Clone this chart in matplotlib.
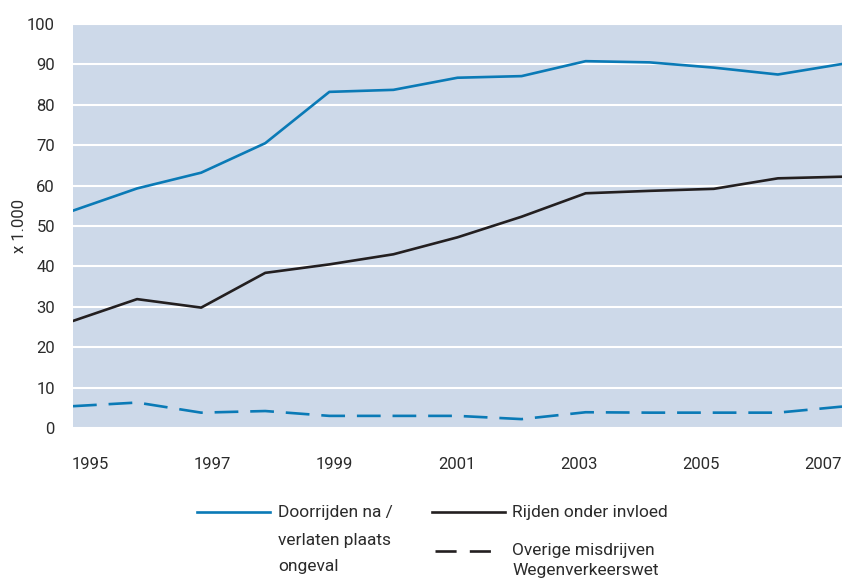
import numpy as np
import matplotlib
matplotlib.use("Agg")
import matplotlib.pyplot as plt
from matplotlib.lines import Line2D
from matplotlib.transforms import ScaledTranslation

plt.rcParams['font.family'] = ['Roboto', 'DejaVu Sans']

years = np.arange(1995, 2008)
doorrijden = [53.8, 59.3, 63.2, 70.5, 83.2, 83.7, 86.7, 87.1, 90.8, 90.5, 89.2, 87.5, 90.1]
rijden_invloed = [26.5, 31.9, 29.8, 38.4, 40.5, 43.0, 47.2, 52.3, 58.1, 58.7, 59.2, 61.8, 62.2]
overige = [5.4, 6.3, 3.8, 4.2, 3.0, 3.0, 3.0, 2.2, 3.9, 3.8, 3.8, 3.8, 5.3]
tick_years = [1995, 1997, 1999, 2001, 2003, 2005, 2007]

BLUE = '#0a7ab6'
BLACK = '#231f20'
TEXT = '#2b2b2b'
BG = '#cdd9e9'

W, H = 842, 580
fig = plt.figure(figsize=(W / 100, H / 100), dpi=100)
ax = fig.add_axes([73 / W, (H - 428) / H, 1 - 73 / W, (428 - 24) / H])
ax.set_facecolor(BG)

ax.plot(years, doorrijden, color=BLUE, lw=1.9, zorder=3)
ax.plot(years, rijden_invloed, color=BLACK, lw=1.9, zorder=3)
ax.plot(years, overige, color=BLUE, lw=1.9, dashes=(9, 4.5), zorder=3)

ax.set_xlim(1995, 2007)
ax.set_ylim(0, 100)
ax.set_yticks(range(0, 101, 10))
ax.set_xticks(tick_years)
ax.grid(axis='y', color='white', lw=1.5)
ax.set_axisbelow(True)
for s in ax.spines.values():
    s.set_visible(False)
ax.tick_params(axis='y', length=0, pad=13, labelsize=12, labelcolor=TEXT)
ax.tick_params(axis='x', length=0, pad=21, labelsize=12, labelcolor=TEXT)
ax.set_ylabel('x 1.000', fontsize=12, color=TEXT)
ax.yaxis.set_label_coords(-46 / 769, 0.5)

# labels spread a bit inward like the original
for i, lbl in enumerate(ax.get_xticklabels()):
    dx = (17 - 6 * i) / 100
    lbl.set_transform(lbl.get_transform() + ScaledTranslation(dx, 0, fig.dpi_scale_trans))

# legend drawn by hand
def fx(px):
    return px / W

def fy(py):
    return 1 - py / H

fig.add_artist(Line2D([fx(197), fx(270)], [fy(512), fy(512)], color=BLUE, lw=1.9))
fig.add_artist(Line2D([fx(432), fx(505)], [fy(512), fy(512)], color=BLACK, lw=1.9))
fig.add_artist(Line2D([fx(435), fx(497)], [fy(551), fy(551)], color=BLACK, lw=1.9,
                      dashes=(8, 5)))
kw = dict(fontsize=12.5, color=TEXT, va='center')
for txt, y in [('Doorrijden na /', 513), ('verlaten plaats', 540), ('ongeval', 566)]:
    fig.text(fx(278), fy(y), txt, **kw)
fig.text(fx(512), fy(513), 'Rijden onder invloed', **kw)
fig.text(fx(512), fy(550), 'Overige misdrijven', **kw)
fig.text(fx(512), fy(571), 'Wegenverkeerswet', **kw)

fig.savefig('out.png', dpi=100)
